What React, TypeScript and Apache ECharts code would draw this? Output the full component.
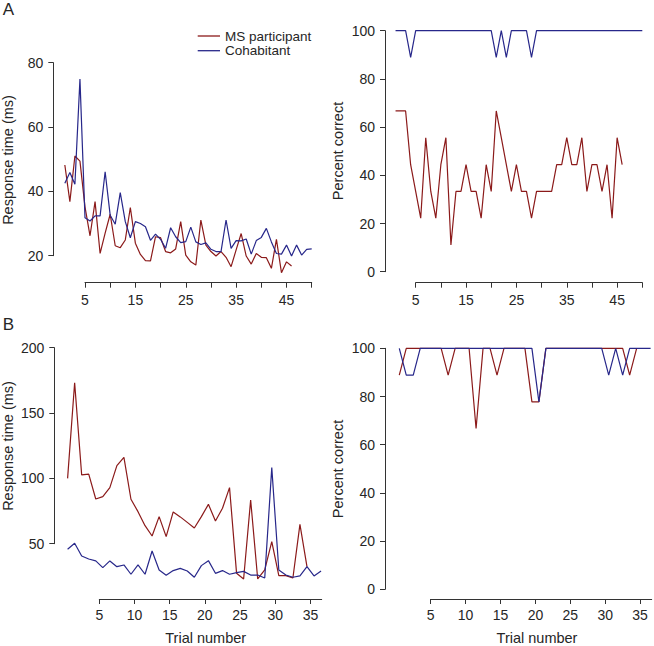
import React, { useEffect, useRef } from "react";
import * as echarts from "echarts";

// ---------- data ----------
const seriesNames = ["MS participant", "Cohabitant"];

// Panel A – response time (ms), trials 1..N
const rtA_ms = [48.2, 36.8, 51, 49.4, 35.2, 26.2, 36.8, 20.7, 27, 32.9, 23.1, 22.5, 24.9, 35.0, 23.9, 20.4, 18.5, 18.4, 25.9, 25.6,
  21.3, 20.9, 22.1, 30.6, 20.2, 18.1, 17.1, 31.1, 23.3, 21.3, 19.9, 21.3, 19.5, 16.6, 21.8, 26.9, 19.9, 17.4, 20.7, 19.5,
  19.4, 16.1, 25.1, 14.7, 18.1, 16.8];
const rtA_co = [42.5, 45.9, 42.2, 74.9, 31.8, 30.8, 32.4, 32.4, 46.1, 32.6, 29.8, 39.6, 30.6, 25.6, 30.6, 30.0, 29.0, 24.8, 26.7, 25.1,
  22.3, 28.7, 25.9, 24.1, 24.4, 28.9, 24.3, 23.5, 24.0, 22.0, 21.3, 21.3, 31.1, 22.3, 24.7, 24.6, 25.2, 20.5, 24.7, 25.7,
  28.5, 24.3, 20.7, 20.5, 23.3, 19.9, 23.3, 20.2, 22.0, 22.1];

// Panel A – percent correct
const pcA_ms = [66.7, 66.7, 66.7, 44.4, 33.3, 22.2, 55.6, 33.3, 22.2, 44.4, 55.6, 11.1, 33.3, 33.3, 44.4, 33.3, 33.3, 22.2, 44.4, 33.3,
  66.7, 55.6, 44.4, 33.3, 44.4, 33.3, 33.3, 22.2, 33.3, 33.3, 33.3, 33.3, 44.4, 44.4, 55.6, 44.4, 44.4, 55.6, 33.3, 44.4,
  44.4, 33.3, 44.4, 22.2, 55.6, 44.4];
const pcA_co = [100, 100, 100, 88.9, 100, 100, 100, 100, 100, 100, 100, 100, 100, 100, 100, 100, 100, 100, 100, 100,
  88.9, 100, 88.9, 100, 100, 100, 100, 88.9, 100, 100, 100, 100, 100, 100, 100, 100, 100, 100, 100, 100,
  100, 100, 100, 100, 100, 100, 100, 100, 100, 100];

// Panel B – response time (ms)
const rtB_ms = [100.0, 173.2, 102.6, 103.3, 84.2, 86.0, 92.9, 109.7, 116.1, 84.0, 74.5, 63.8, 55.9, 70.7, 55.4, 74.3, 70.5, 66.3, 62.0, 70.7,
  80.1, 67.4, 77.1, 92.9, 27.3, 23.0, 83.4, 23.0, 29.9, 51.6, 25.5, 25.5, 23.7, 64.8, 32.4];
const rtB_co = [45.7, 50.3, 40.6, 38.3, 36.8, 31.7, 36.8, 32.4, 33.7, 26.6, 33.7, 26.6, 44.4, 29.9, 25.8, 29.4, 31.1, 29.1, 24.3, 33.2,
  37.0, 27.3, 29.4, 26.6, 27.8, 28.8, 26.0, 26.0, 23.7, 108.2, 29.9, 26.0, 24.3, 25.3, 32.4, 25.3, 29.1];

// Panel B – percent correct
const pcB_ms = [88.9, 100, 100, 100, 100, 100, 100, 88.9, 100, 100, 100, 66.7, 100, 100, 88.9, 100, 100, 100, 100, 77.8,
  77.8, 100, 100, 100, 100, 100, 100, 100, 100, 100, 100, 100, 100, 88.9, 100];
const pcB_co = [100, 88.9, 88.9, 100, 100, 100, 100, 100, 100, 100, 100, 100, 100, 100, 100, 100, 100, 100, 100, 100,
  77.8, 100, 100, 100, 100, 100, 100, 100, 100, 100, 88.9, 100, 88.9, 100, 100, 100, 100];

// axis ticks
const ticksA_x = [5, 10, 15, 20, 25, 30, 35, 40, 45, 50];
const labelsA_x = [5, 15, 25, 35, 45];
const ticksB_x = [5, 10, 15, 20, 25, 30, 35];

// ---------- styling ----------
const FONT = "'Liberation Sans', Arial, Helvetica, sans-serif";
const RED = "#8b1a1a";
const BLUE = "#27278a";
const AXIS = "#333";
const TXT = "#262626";

type Panel = {
  data: { left: number; top: number; width: number; height: number; xMin: number; xMax: number; yMin: number; yMax: number };
  xAx: { left: number; width: number; y: number; min: number; max: number; ticks: number[]; labels: number[]; margin: number };
  yAx: { x: number; top: number; height: number; min: number; max: number; interval: number };
  ms: number[];
  co: number[];
};

const panels: Panel[] = [
  {
    data: { left: 59.8, top: 62.7, width: 251.9, height: 225.2, xMin: 0, xMax: 50, yMin: 10, yMax: 80 },
    xAx: { left: 85, width: 226.7, y: 282.7, min: 5, max: 50, ticks: ticksA_x, labels: labelsA_x, margin: 10 },
    yAx: { x: 53.3, top: 62.7, height: 193, min: 20, max: 80, interval: 20 },
    ms: rtA_ms,
    co: rtA_co,
  },
  {
    data: { left: 390.5, top: 30.7, width: 251.8, height: 241, xMin: 0, xMax: 50, yMin: 0, yMax: 100 },
    xAx: { left: 415.7, width: 226.6, y: 282.7, min: 5, max: 50, ticks: ticksA_x, labels: labelsA_x, margin: 10 },
    yAx: { x: 385, top: 30.7, height: 241, min: 0, max: 100, interval: 20 },
    ms: pcA_ms,
    co: pcA_co,
  },
  {
    data: { left: 60.56, top: 347.7, width: 260.5, height: 261.3, xMin: 0, xMax: 37, yMin: 0, yMax: 200 },
    xAx: { left: 99.3, width: 222.4, y: 599, min: 5, max: 36.6, ticks: ticksB_x, labels: ticksB_x, margin: 9 },
    yAx: { x: 54.3, top: 347.7, height: 196, min: 50, max: 200, interval: 50 },
    ms: rtB_ms,
    co: rtB_co,
  },
  {
    data: { left: 392.3, top: 348.3, width: 258.3, height: 241, xMin: 0, xMax: 37, yMin: 0, yMax: 100 },
    xAx: { left: 430.7, width: 221, y: 599, min: 5, max: 36.66, ticks: ticksB_x, labels: ticksB_x, margin: 9 },
    yAx: { x: 385, top: 348.3, height: 241, min: 0, max: 100, interval: 20 },
    ms: pcB_ms,
    co: pcB_co,
  },
];

function buildOption() {
  const grid: any[] = [];
  const xAxis: any[] = [];
  const yAxis: any[] = [];
  const series: any[] = [];
  const hiddenAxis = (gi: number, extra: any = {}) => ({
    gridIndex: gi, type: "value", show: false, splitLine: { show: false }, ...extra,
  });
  const axisLabelStyle = { color: TXT, fontSize: 14, fontFamily: FONT };

  panels.forEach((p) => {
    // data grid
    const gd = grid.length;
    grid.push({ left: p.data.left, top: p.data.top, width: p.data.width, height: p.data.height, containLabel: false });
    xAxis.push(hiddenAxis(gd, { min: p.data.xMin, max: p.data.xMax }));
    yAxis.push(hiddenAxis(gd, { min: p.data.yMin, max: p.data.yMax }));
    const xi = xAxis.length - 1;
    const yi = yAxis.length - 1;
    [p.ms, p.co].forEach((vals, k) => {
      series.push({
        name: seriesNames[k],
        type: "line",
        xAxisIndex: xi,
        yAxisIndex: yi,
        data: vals.map((v, i) => [i + 1, v]),
        symbol: "none",
        showSymbol: false,
        clip: false,
        silent: true,
        lineStyle: { color: k === 0 ? RED : BLUE, width: 1.2 },
        itemStyle: { color: k === 0 ? RED : BLUE },
        z: 2 + k,
      });
    });

    // x axis grid
    const gx = grid.length;
    grid.push({ left: p.xAx.left, width: p.xAx.width, top: p.xAx.y - 10, height: 10, containLabel: false });
    xAxis.push({
      gridIndex: gx,
      type: "value",
      position: "bottom",
      min: p.xAx.min,
      max: p.xAx.max,
      splitLine: { show: false },
      axisLine: { show: true, lineStyle: { color: AXIS, width: 1 } },
      axisTick: { show: true, inside: false, length: 5, customValues: p.xAx.ticks, lineStyle: { color: AXIS, width: 1 } },
      axisLabel: { show: true, margin: p.xAx.margin, customValues: p.xAx.labels, ...axisLabelStyle },
    });
    yAxis.push(hiddenAxis(gx, { min: 0, max: 1 }));

    // y axis grid
    const gy = grid.length;
    grid.push({ left: p.yAx.x, width: 10, top: p.yAx.top, height: p.yAx.height, containLabel: false });
    xAxis.push(hiddenAxis(gy, { min: 0, max: 1 }));
    yAxis.push({
      gridIndex: gy,
      type: "value",
      position: "left",
      min: p.yAx.min,
      max: p.yAx.max,
      interval: p.yAx.interval,
      splitLine: { show: false },
      axisLine: { show: true, lineStyle: { color: AXIS, width: 1 } },
      axisTick: { show: true, inside: false, length: 5, lineStyle: { color: AXIS, width: 1 } },
      axisLabel: { show: true, margin: 10, ...axisLabelStyle },
    });
  });

  const titleStyle = { fill: TXT, fontSize: 14.5, fontFamily: FONT, align: "center", verticalAlign: "middle" };
  const vTitle = (text: string, x: number, y: number) => ({
    type: "text", x, y, rotation: Math.PI / 2, silent: true, style: { text, ...titleStyle },
  });
  const hTitle = (text: string, x: number, y: number) => ({
    type: "text", x, y, silent: true, style: { text, ...titleStyle },
  });
  const letter = (text: string, x: number, y: number) => ({
    type: "text", x, y, silent: true,
    style: { text, fill: TXT, fontSize: 17, fontFamily: FONT, align: "center", verticalAlign: "middle" },
  });

  return {
    animation: false,
    backgroundColor: "#ffffff",
    textStyle: { fontFamily: FONT },
    grid,
    xAxis,
    yAxis,
    series,
    legend: {
      data: seriesNames,
      orient: "vertical",
      left: 197.7,
      top: 29,
      padding: 0,
      icon: "rect",
      itemWidth: 22.3,
      itemHeight: 1.3,
      itemGap: 0.7,
      selectedMode: false,
      textStyle: { color: TXT, fontSize: 13.5, fontFamily: FONT, lineHeight: 14 },
    },
    graphic: [
      letter("A", 8.5, 9.5),
      letter("B", 8.5, 324),
      vTitle("Response time (ms)", 8, 160),
      vTitle("Percent correct", 338, 151),
      vTitle("Response time (ms)", 8, 446),
      vTitle("Percent correct", 338, 469),
      hTitle("Trial number", 205.7, 637.5),
      hTitle("Trial number", 537, 637.5),
    ],
  };
}

export default function App() {
  const ref = useRef<HTMLDivElement>(null);
  useEffect(() => {
    if (!ref.current) return;
    const chart = echarts.init(ref.current, undefined, { renderer: "svg" });
    chart.setOption(buildOption() as any);
    return () => chart.dispose();
  }, []);
  return (
    <div
      ref={ref}
      style={{ position: "fixed", left: 0, top: 0, width: 654, height: 646, background: "#fff" }}
    />
  );
}
